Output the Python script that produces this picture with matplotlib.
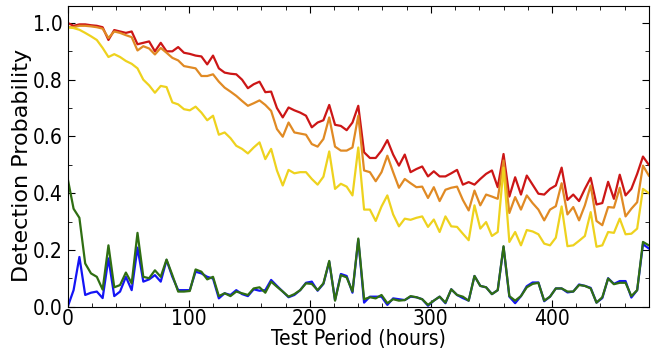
import numpy as np
import matplotlib.pyplot as plt
from matplotlib.ticker import MultipleLocator

# detection probability per test period, one sample every 4.8 hours
step_h = 4.8

red = [1.0, 0.99, 0.995, 0.995, 0.992, 0.99, 0.985, 0.94, 0.975, 0.97, 0.965, 0.97, 0.925, 0.93, 0.935, 0.9, 0.93, 0.9, 0.9, 0.915, 0.895,
       0.891, 0.885, 0.882, 0.854, 0.885, 0.84, 0.825, 0.821, 0.819, 0.80, 0.77, 0.784, 0.793, 0.756, 0.758, 0.70, 0.667, 0.702, 0.692, 0.684,
       0.673, 0.632, 0.649, 0.657, 0.711, 0.641, 0.637, 0.622, 0.649, 0.708, 0.544, 0.524, 0.524, 0.55, 0.587, 0.536, 0.497, 0.536, 0.474, 0.485,
       0.494, 0.459, 0.477, 0.459, 0.459, 0.47, 0.482, 0.43, 0.439, 0.43, 0.45, 0.468, 0.48, 0.421, 0.538, 0.388, 0.456, 0.395, 0.462, 0.43,
       0.398, 0.395, 0.415, 0.427, 0.49, 0.376, 0.395, 0.372, 0.415, 0.454, 0.36, 0.365, 0.44, 0.38, 0.465, 0.392, 0.415, 0.468, 0.529, 0.50]

orange = [0.985, 0.985, 0.99, 0.99, 0.988, 0.985, 0.98, 0.947, 0.97, 0.965, 0.957, 0.95, 0.903, 0.918, 0.91, 0.889, 0.912, 0.895, 0.877, 0.868, 0.848,
          0.844, 0.84, 0.813, 0.813, 0.819, 0.793, 0.772, 0.758, 0.743, 0.725, 0.708, 0.717, 0.727, 0.711, 0.69, 0.626, 0.599, 0.649, 0.614, 0.61,
          0.606, 0.573, 0.564, 0.591, 0.667, 0.564, 0.55, 0.55, 0.561, 0.673, 0.48, 0.474, 0.442, 0.474, 0.532, 0.474, 0.419, 0.45, 0.435, 0.421,
          0.423, 0.383, 0.421, 0.372, 0.412, 0.419, 0.423, 0.376, 0.339, 0.409, 0.357, 0.395, 0.388, 0.38, 0.515, 0.33, 0.386, 0.342, 0.392, 0.365,
          0.342, 0.304, 0.342, 0.354, 0.435, 0.325, 0.351, 0.304, 0.357, 0.427, 0.302, 0.287, 0.351, 0.349, 0.419, 0.318, 0.345, 0.368, 0.497, 0.462]

yellow = [0.985, 0.982, 0.976, 0.965, 0.953, 0.94, 0.912, 0.88, 0.89, 0.88, 0.866, 0.856, 0.84, 0.80, 0.78, 0.754, 0.778, 0.774, 0.72, 0.713, 0.696,
          0.692, 0.705, 0.684, 0.657, 0.673, 0.606, 0.614, 0.594, 0.567, 0.556, 0.54, 0.561, 0.579, 0.52, 0.556, 0.48, 0.427, 0.482, 0.47, 0.474,
          0.474, 0.45, 0.43, 0.458, 0.547, 0.415, 0.433, 0.423, 0.392, 0.561, 0.342, 0.342, 0.302, 0.353, 0.392, 0.325, 0.283, 0.31, 0.306, 0.313,
          0.318, 0.281, 0.307, 0.263, 0.318, 0.283, 0.281, 0.257, 0.234, 0.357, 0.275, 0.298, 0.249, 0.263, 0.49, 0.228, 0.263, 0.216, 0.27, 0.265,
          0.255, 0.222, 0.216, 0.243, 0.353, 0.213, 0.216, 0.232, 0.249, 0.333, 0.211, 0.216, 0.263, 0.26, 0.31, 0.255, 0.257, 0.275, 0.415, 0.40]

blue = [0.0, 0.058, 0.175, 0.041, 0.049, 0.053, 0.03, 0.17, 0.037, 0.053, 0.105, 0.058, 0.208, 0.088, 0.096, 0.111, 0.088, 0.164, 0.105, 0.058, 0.058,
        0.058, 0.123, 0.117, 0.105, 0.099, 0.029, 0.047, 0.041, 0.058, 0.044, 0.037, 0.061, 0.056, 0.058, 0.094, 0.073, 0.053, 0.033, 0.041, 0.058,
        0.084, 0.088, 0.056, 0.08, 0.158, 0.023, 0.115, 0.108, 0.049, 0.236, 0.014, 0.035, 0.035, 0.035, 0.006, 0.029, 0.026, 0.023, 0.035, 0.033,
        0.026, 0.003, 0.021, 0.035, 0.012, 0.061, 0.041, 0.03, 0.021, 0.108, 0.073, 0.068, 0.044, 0.058, 0.21, 0.035, 0.012, 0.037, 0.072, 0.085,
        0.085, 0.019, 0.035, 0.064, 0.064, 0.05, 0.053, 0.078, 0.073, 0.066, 0.014, 0.03, 0.1, 0.08, 0.09, 0.09, 0.032, 0.058, 0.22, 0.205]

green = [0.45, 0.345, 0.313, 0.152, 0.117, 0.105, 0.06, 0.216, 0.068, 0.076, 0.12, 0.082, 0.26, 0.105, 0.1, 0.128, 0.105, 0.166, 0.111, 0.053, 0.053,
         0.055, 0.131, 0.123, 0.096, 0.105, 0.037, 0.047, 0.037, 0.053, 0.047, 0.041, 0.064, 0.068, 0.049, 0.088, 0.07, 0.053, 0.035, 0.044, 0.058,
         0.082, 0.08, 0.058, 0.082, 0.161, 0.021, 0.111, 0.103, 0.053, 0.24, 0.026, 0.033, 0.029, 0.041, 0.012, 0.026, 0.021, 0.023, 0.037, 0.033,
         0.026, 0.006, 0.021, 0.035, 0.014, 0.061, 0.041, 0.035, 0.021, 0.108, 0.073, 0.068, 0.044, 0.058, 0.213, 0.037, 0.021, 0.037, 0.068, 0.08,
         0.084, 0.021, 0.035, 0.064, 0.064, 0.053, 0.053, 0.076, 0.073, 0.064, 0.014, 0.033, 0.099, 0.079, 0.084, 0.084, 0.037, 0.058, 0.228, 0.216]

hours = np.arange(len(red)) * step_h

fig = plt.figure(figsize=(6.58, 3.5), dpi=100)
ax = fig.add_axes([0.103, 0.124, 0.883, 0.859])

lw = 1.6
ax.plot(hours, red, color="#cc1616", lw=lw)
ax.plot(hours, orange, color="#e08a24", lw=lw)
ax.plot(hours, yellow, color="#eed21e", lw=lw)
ax.plot(hours, blue, color="#1414f5", lw=lw)
ax.plot(hours, green, color="#2f6e12", lw=lw)

ax.set_xlim(0, 480)
ax.set_ylim(0, 1.06)
ax.xaxis.set_major_locator(MultipleLocator(100))
ax.xaxis.set_minor_locator(MultipleLocator(20))
ax.yaxis.set_major_locator(MultipleLocator(0.2))
ax.yaxis.set_minor_locator(MultipleLocator(0.1))
ax.tick_params(which="both", direction="in", top=True, right=True)
ax.tick_params(which="major", length=5)
ax.tick_params(which="minor", length=3)
ax.tick_params(axis="x", pad=1.5)
for lab in ax.get_xticklabels() + ax.get_yticklabels():
    lab.set_fontsize(15)
    lab.set_fontstretch("condensed")

ax.set_xlabel("Test Period (hours)", fontsize=15, fontstretch="condensed", labelpad=0.5)
ax.set_ylabel("Detection Probability", fontsize=16)
ax.yaxis.set_label_coords(-0.062, 0.47)

fig.savefig("out.png", dpi=100)
